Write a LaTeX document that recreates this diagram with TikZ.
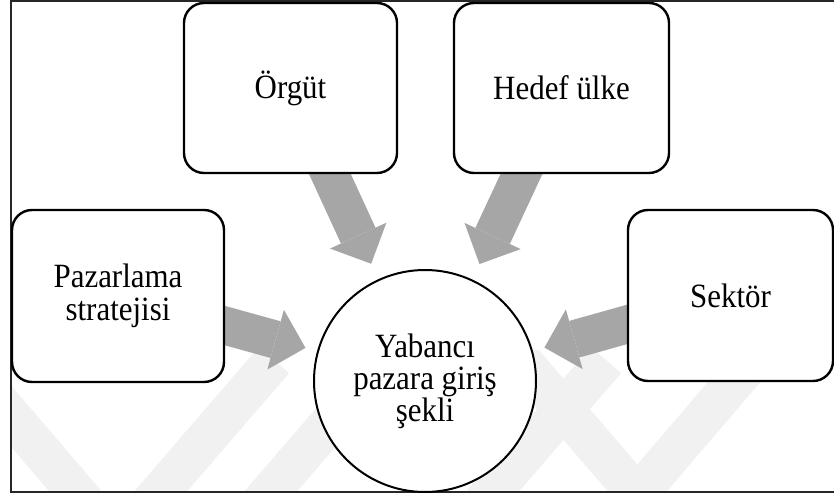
\documentclass[tikz,border=0pt]{standalone}
\usepackage{fontspec}
\setmainfont{Liberation Serif}
\newfontfamily\labelfont{Liberation Serif}[FakeStretch=0.91]
\usetikzlibrary{arrows.meta,backgrounds}
\pgfdeclarelayer{watermark}
\pgfsetlayers{watermark,background,main}
\definecolor{feedgray}{RGB}{166,166,166}
\definecolor{markgray}{RGB}{241,241,241}

\tikzset{
  box/.style={draw=black, line width=2.4pt, rounded corners=20pt, fill=white,
    inner sep=0pt, align=center, font=\labelfont\fontsize{34}{33}\selectfont},
  hub/.style={circle, draw=black, line width=2pt, fill=white, minimum size=222pt,
    inner sep=0pt, align=center, font=\labelfont\fontsize{34}{32}\selectfont},
  feed/.style={draw=feedgray, line width=38pt,
    -{Triangle[length=31pt,width=62pt,line width=0pt]}, shorten <=-20pt},
  band/.style={line width=40pt, draw=markgray},
}

\begin{document}
\begin{tikzpicture}[x=1pt,y=-1pt]
\useasboundingbox (0,0) rectangle (834,497);

% faint diagonal bands in the lower part
\begin{pgfonlayer}{watermark}
  \begin{scope}
    \clip (12,350) rectangle (834,491);
    \draw[band] (-37,360) -- (100,520);
    \draw[band] (274,360) -- (136,520);
    \draw[band] (384,360) -- (246,520);
    \draw[band] (606,360) -- (468,520);
    \draw[band] (521,360) -- (659,520);
    \draw[band] (753,360) -- (616,520);
  \end{scope}
\end{pgfonlayer}

% outer frame
\draw[line width=1.6pt, black!85] (11,1) rectangle (850,492);

% factor boxes and the central circle
\node[box, minimum width=213pt, minimum height=170pt] (og) at (290.5,88) {Örgüt};
\node[box, minimum width=215pt, minimum height=170pt] (hd) at (561.5,88) {Hedef ülke};
\node[box, minimum width=212pt, minimum height=172pt] (pz) at (118,296) {Pazarlama\\stratejisi};
\node[box, minimum width=205pt, minimum height=171pt] (sk) at (730.5,295.5) {Sektör};
\node[hub] (c) at (425,381) {Yabancı\\pazara giriş\\şekli};

% block arrows towards the circle
\begin{pgfonlayer}{background}
  \draw[feed, shorten >=12pt] (pz) -- (c);
  \draw[feed, shorten >=12pt] (sk) -- (c);
  \draw[feed, shorten >=17pt] (og) -- (c);
  \draw[feed, shorten >=17pt] (hd) -- (c);
\end{pgfonlayer}
\end{tikzpicture}
\end{document}
